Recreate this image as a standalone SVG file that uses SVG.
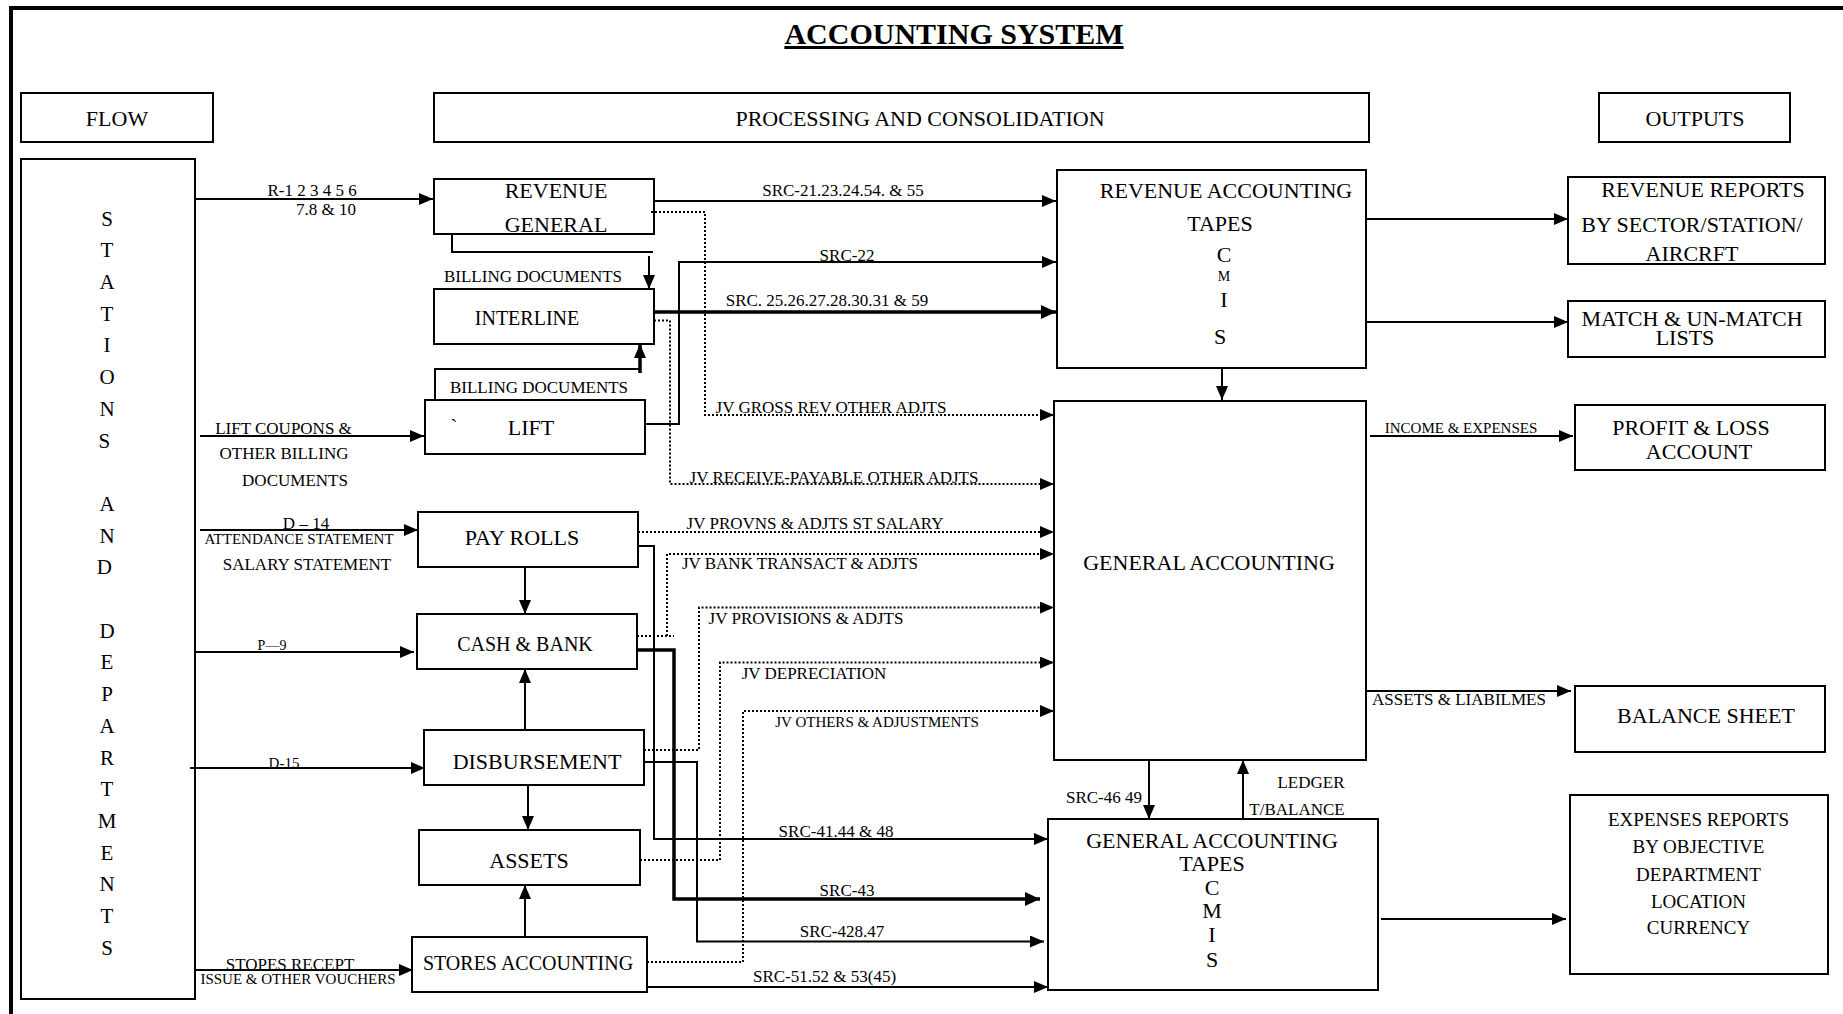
<svg xmlns="http://www.w3.org/2000/svg" width="1843" height="1014" viewBox="0 0 1843 1014">
<defs>
<style>
.t{font-family:"Liberation Serif","Times New Roman",serif;fill:#000;text-anchor:middle}
.box{fill:#fff;stroke:#000;stroke-width:2}
.b{font-size:22px}
.b20{font-size:20px}
.l{font-size:17px}
.s{font-size:15px}
.ln{fill:none;stroke:#000;stroke-width:2}
.thk{stroke-width:3.5}
.dot{stroke-dasharray:2 2}
.arr{marker-end:url(#ah)}
.arrb{marker-end:url(#ahb)}
</style>
<marker id="ah" markerUnits="userSpaceOnUse" markerWidth="16" markerHeight="14" refX="14" refY="6" orient="auto"><path d="M0,0 L14,6 L0,12 z" fill="#000"/></marker>
<marker id="ahb" markerUnits="userSpaceOnUse" markerWidth="18" markerHeight="16" refX="15" refY="7" orient="auto"><path d="M0,0 L15,7 L0,14 z" fill="#000"/></marker>
</defs>
<rect x="0" y="0" width="1843" height="1014" fill="#fff"/>
<path d="M11,1014 V8 H1843" fill="none" stroke="#000" stroke-width="4"/>
<text class="t" x="954" y="44" font-size="30" font-weight="bold" text-decoration="underline">ACCOUNTING SYSTEM</text>

<g id="hdr-flow"><rect class="box" x="21" y="93" width="192" height="49"/><text class="t b" x="117" y="125.5">FLOW</text></g>
<g id="hdr-processing"><rect class="box" x="434" y="93" width="935" height="49"/><text class="t b" x="920" y="125.5">PROCESSING AND CONSOLIDATION</text></g>
<g id="hdr-outputs"><rect class="box" x="1599" y="93" width="191" height="49"/><text class="t b" x="1695" y="125.5">OUTPUTS</text></g>

<g id="stations"><rect class="box" x="21" y="159" width="174" height="840"/>
<text class="t" font-size="21">
<tspan x="107" y="225.6">S</tspan><tspan x="107" y="257.3">T</tspan><tspan x="107" y="289">A</tspan><tspan x="107" y="320.7">T</tspan><tspan x="107" y="352.4">I</tspan><tspan x="107" y="384.1">O</tspan><tspan x="107" y="415.8">N</tspan><tspan x="107" y="447.5">S</tspan>
<tspan x="107" y="510.9">A</tspan><tspan x="107" y="542.6">N</tspan><tspan x="107" y="574.3">D</tspan>
<tspan x="107" y="637.7">D</tspan><tspan x="107" y="669.4">E</tspan><tspan x="107" y="701.1">P</tspan><tspan x="107" y="732.8">A</tspan><tspan x="107" y="764.5">R</tspan><tspan x="107" y="796.2">T</tspan><tspan x="107" y="827.9">M</tspan><tspan x="107" y="859.6">E</tspan><tspan x="107" y="891.3">N</tspan><tspan x="107" y="923">T</tspan><tspan x="107" y="954.7">S</tspan>
</text></g>

<g id="revenue-general"><rect class="box" x="434" y="179" width="220" height="55"/><text class="t b" x="556" y="197.5">REVENUE</text><text class="t b" x="556" y="232">GENERAL</text></g>
<g id="interline"><rect class="box" x="434" y="289" width="220" height="55"/><text class="t b20" x="527" y="325">INTERLINE</text></g>
<g id="lift"><rect class="box" x="425" y="400" width="220" height="54"/><text class="t b" x="454" y="434">`</text><text class="t b" x="531" y="434.5">LIFT</text></g>
<g id="pay-rolls"><rect class="box" x="418" y="512" width="220" height="55"/><text class="t b" x="522" y="544.5">PAY ROLLS</text></g>
<g id="cash-bank"><rect class="box" x="417" y="614" width="220" height="55"/><text class="t b20" x="525" y="651">CASH &amp; BANK</text></g>
<g id="disbursement"><rect class="box" x="424" y="730" width="220" height="55"/><text class="t b" x="537" y="769">DISBURSEMENT</text></g>
<g id="assets"><rect class="box" x="419" y="830" width="221" height="55"/><text class="t b" x="529" y="868">ASSETS</text></g>
<g id="stores-accounting"><rect class="box" x="412" y="937" width="235" height="55"/><text class="t b20" x="528" y="970">STORES ACCOUNTING</text></g>

<g id="revenue-accounting-tapes"><rect class="box" x="1057" y="170" width="309" height="198"/>
<text class="t b" x="1226" y="197.5">REVENUE ACCOUNTING</text><text class="t b" x="1220" y="231">TAPES</text>
<text class="t b" x="1224" y="262">C</text><text class="t" font-size="14" x="1224" y="281">M</text><text class="t b" x="1224" y="307">I</text><text class="t b" x="1220" y="344">S</text></g>
<g id="general-accounting"><rect class="box" x="1054" y="401" width="312" height="359"/><text class="t b" x="1209" y="569.5">GENERAL ACCOUNTING</text></g>
<g id="general-accounting-tapes"><rect class="box" x="1048" y="819" width="330" height="171"/>
<text class="t b" x="1212" y="848">GENERAL ACCOUNTING</text><text class="t b" x="1212" y="871">TAPES</text>
<text class="t b" x="1212" y="895">C</text><text class="t b" x="1212" y="918">M</text><text class="t b" x="1212" y="942">I</text><text class="t b" x="1212" y="967">S</text></g>

<g id="revenue-reports"><rect class="box" x="1568" y="177" width="257" height="87"/>
<text class="t b" x="1703" y="196.5">REVENUE REPORTS</text><text class="t b" x="1692" y="232">BY SECTOR/STATION/</text><text class="t b" x="1692" y="261">AIRCRFT</text></g>
<g id="match-lists"><rect class="box" x="1568" y="301" width="257" height="56"/>
<text class="t b" x="1692" y="325.5">MATCH &amp; UN-MATCH</text><text class="t b" x="1685" y="344.5">LISTS</text></g>
<g id="profit-loss"><rect class="box" x="1575" y="405" width="250" height="65"/>
<text class="t b" x="1691" y="434.5">PROFIT &amp; LOSS</text><text class="t b" x="1699" y="458.5">ACCOUNT</text></g>
<g id="balance-sheet"><rect class="box" x="1575" y="686" width="250" height="66"/><text class="t b" x="1706" y="722.5">BALANCE SHEET</text></g>
<g id="expenses-reports"><rect class="box" x="1570" y="795" width="258" height="179"/>
<text class="t" font-size="19" x="1698.5" y="826">EXPENSES REPORTS</text><text class="t" font-size="19" x="1698.5" y="853">BY OBJECTIVE</text><text class="t" font-size="19" x="1698.5" y="881">DEPARTMENT</text><text class="t" font-size="19" x="1698.5" y="908">LOCATION</text><text class="t" font-size="19" x="1698.5" y="934">CURRENCY</text></g>

<g id="connectors">
<path class="ln arr" d="M195,199 H433"/>
<text class="t l" x="312" y="196">R-1 2 3 4 5 6</text><text class="t l" x="326" y="214.5">7.8 &amp; 10</text>
<path class="ln arr" d="M654,201 H1056"/>
<text class="t l" x="843" y="195.5">SRC-21.23.24.54. &amp; 55</text>
<path class="ln" d="M452,234 V252 H653"/>
<path class="ln arr" d="M649,256 V289"/>
<text class="t l" x="533" y="281.5">BILLING DOCUMENTS</text>
<path class="ln" d="M435,400 V369 H640"/>
<path class="ln arr thk" d="M640,373 V344"/>
<text class="t l" x="539" y="392.5">BILLING DOCUMENTS</text>
<path class="ln arr" d="M645,424 H679 V262 H1056"/>
<text class="t l" x="847" y="260.5">SRC-22</text>
<path class="ln thk arrb" d="M654,312 H1056"/>
<text class="t l" x="827" y="305.5">SRC. 25.26.27.28.30.31 &amp; 59</text>
<path class="ln dot arr" d="M651,212 H705 V415 H1054"/>
<text class="t l" x="831" y="413">JV GROSS REV OTHER ADJTS</text>
<path class="ln dot arr" d="M654,320.5 H670 V484 H1054"/>
<text class="t l" x="834" y="483">JV RECEIVE-PAYABLE OTHER ADJTS</text>
<path class="ln dot arr" d="M638,532 H1054"/>
<text class="t l" x="815" y="528.5">JV PROVNS &amp; ADJTS ST SALARY</text>
<path class="ln dot" d="M637,636 H674"/>
<path class="ln dot arr" d="M667,636 V554 H1054"/>
<text class="t l" x="800" y="568.5">JV BANK TRANSACT &amp; ADJTS</text>
<path class="ln dot arr" d="M644,750 H699 V607.5 H1054"/>
<text class="t l" x="806" y="623.5">JV PROVISIONS &amp; ADJTS</text>
<path class="ln dot arr" d="M640,860 H720 V662.5 H1054"/>
<text class="t l" x="814" y="678.5">JV DEPRECIATION</text>
<path class="ln dot arr" d="M647,962 H743 V711 H1054"/>
<text class="t s" x="877" y="727">JV OTHERS &amp; ADJUSTMENTS</text>
<path class="ln arr" d="M638,546 H654 V839 H1048"/>
<text class="t l" x="836" y="836.5">SRC-41.44 &amp; 48</text>
<path class="ln thk arrb" d="M637,650 H674 V899 H1040"/>
<text class="t l" x="847" y="896">SRC-43</text>
<path class="ln arr" d="M644,762 H697 V941.5 H1044"/>
<text class="t l" x="842" y="936.5">SRC-428.47</text>
<path class="ln arr" d="M647,987 H1048"/>
<text class="t l" x="824.5" y="982">SRC-51.52 &amp; 53(45)</text>
<path class="ln arr" d="M1149,760 V819"/>
<text class="t l" x="1104" y="802.5">SRC-46 49</text>
<path class="ln arr" d="M1243,819 V760"/>
<text class="t l" x="1311" y="787.5">LEDGER</text><text class="t l" x="1297" y="815">T/BALANCE</text>
<path class="ln arr" d="M1222,368 V400"/>
<path class="ln arr" d="M1366,219 H1568"/>
<path class="ln arr" d="M1366,322 H1568"/>
<path class="ln arr" d="M1370,436 H1573"/>
<text class="t s" x="1461" y="433">INCOME &amp; EXPENSES</text>
<path class="ln arr" d="M1367,691 H1571"/>
<text class="t l" x="1459" y="704.5">ASSETS &amp; LIABILMES</text>
<path class="ln arr" d="M1381,919 H1566"/>
<path class="ln arr" d="M525,567 V614"/>
<path class="ln arr" d="M525,731 V669"/>
<path class="ln arr" d="M528,785 V830"/>
<path class="ln arr" d="M525,936 V885"/>
<path class="ln arr" d="M200,436 H424" stroke-width="3"/>
<text class="t l" x="283.5" y="433.5">LIFT COUPONS &amp;</text><text class="t l" x="284" y="458.5">OTHER BILLING</text><text class="t l" x="295" y="485.5">DOCUMENTS</text>
<path class="ln arr" d="M200,530 H418" stroke-width="3"/>
<text class="t l" x="306" y="528.5">D – 14</text><text class="t s" x="299" y="544">ATTENDANCE STATEMENT</text><text class="t l" x="307" y="569.5">SALARY STATEMENT</text>
<path class="ln arr" d="M195,652 H414"/>
<text class="t" font-size="14" x="272" y="649.5">P—9</text>
<path class="ln arr" d="M190,768 H425" stroke-width="2.5"/>
<text class="t s" x="284" y="768">D-15</text>
<path class="ln arr" d="M195,970 H413" stroke-width="3"/>
<text class="t l" x="290" y="969.5">STOPES RECEPT</text><text class="t s" x="298" y="984">ISSUE &amp; OTHER VOUCHERS</text>
</g>
</svg>
